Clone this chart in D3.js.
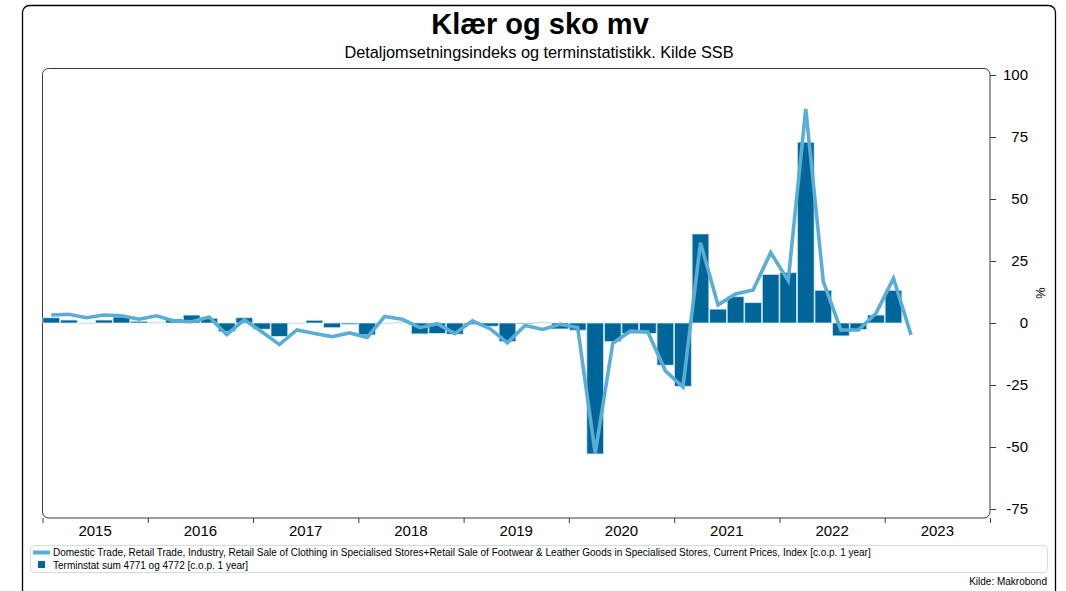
<!DOCTYPE html>
<html>
<head>
<meta charset="utf-8">
<script src="https://cdn.jsdelivr.net/npm/d3@7/dist/d3.min.js"></script>
<style>
  html, body { margin: 0; padding: 0; background: #fff; }
  svg { display: block; font-family: "Liberation Sans", Arial, sans-serif; }
</style>
</head>
<body>
<svg id="chart" width="1066" height="591"></svg>
<script>
// ---- Data (bimonthly VAT terms, % change on same period one year earlier) ----
const terms = [
  "2015T1","2015T2","2015T3","2015T4","2015T5","2015T6",
  "2016T1","2016T2","2016T3","2016T4","2016T5","2016T6",
  "2017T1","2017T2","2017T3","2017T4","2017T5","2017T6",
  "2018T1","2018T2","2018T3","2018T4","2018T5","2018T6",
  "2019T1","2019T2","2019T3","2019T4","2019T5","2019T6",
  "2020T1","2020T2","2020T3","2020T4","2020T5","2020T6",
  "2021T1","2021T2","2021T3","2021T4","2021T5","2021T6",
  "2022T1","2022T2","2022T3","2022T4","2022T5","2022T6",
  "2023T1","2023T2"
];
// Terminstat sum 4771 og 4772 (bars)
const terminstat = [
  2.1, 1.2, -0.3, 1.2, 2.4, 0.7,
  0.3, 1.6, 3.2, 1.9, -3.5, 2.1,
  -2.5, -5.4, -0.3, 1.1, -1.9, -0.5,
  -4.8, -0.3, 0.1, -4.4, -4.2, -4.5,
  -0.6, -1.3, -7.5, -0.4, 0.1, -2.4,
  -2.9, -52.8, -7.5, -4.2, -4.2, -17.0,
  -25.5, 35.9, 5.6, 10.6, 8.2, 19.6,
  20.3, 72.9, 13.2, -5.2, -2.6, 3.2,
  13.2
];
// Detaljomsetningsindeks, klær + sko (line)
const retailIndex = [
  3.2, 3.5, 2.1, 3.2, 2.9, 1.5,
  2.9, 0.8, 0.5, 2.4, -4.7, 1.3,
  -3.5, -8.7, -2.8, -4.2, -5.5, -4.0,
  -5.8, 2.6, 1.5, -1.9, -0.3, -4.3,
  0.9, -2.3, -8.0, -1.0, -2.6, -0.5,
  -1.8, -52.5, -8.2, -3.3, -3.6, -19.3,
  -25.8, 32.4, 7.3, 11.7, 13.3, 28.4,
  17.1, 86.3, 16.7, -2.8, -2.8, 3.9,
  18.0, -4.8
];
const yearLabels = ["2015","2016","2017","2018","2019","2020","2021","2022","2023"];
const yTicks = [100, 75, 50, 25, 0, -25, -50, -75];

const lineLabel = "Domestic Trade, Retail Trade, Industry, Retail Sale of Clothing in Specialised Stores+Retail Sale of Footwear & Leather Goods in Specialised Stores, Current Prices, Index [c.o.p. 1 year]";
const barLabel = "Terminstat sum 4771 og 4772 [c.o.p. 1 year]";

// ---- Layout ----
const svg = d3.select("#chart");
const plot = { left: 42.5, right: 990, top: 68.5, bottom: 518 };
const barColor = "#00669a";
const lineColor = "#5aadd5";

// time position: term index i -> fractional year
const tpos = i => +terms[i].slice(0, 4) + (+terms[i].slice(5) - 0.5) / 6;

const x = d3.scaleLinear().domain([2015, 2024]).range([plot.left, plot.right]);
const y = d3.scaleLinear().domain([-75, 100]).range([509, 75]);

// outer frame
svg.append("rect")
  .attr("x", 22.5).attr("y", 5.5).attr("width", 1033).attr("height", 640)
  .attr("rx", 7).attr("fill", "none").attr("stroke", "#000").attr("stroke-width", 1.3);

// title & subtitle
svg.append("text").attr("x", 540).attr("y", 34).attr("text-anchor", "middle")
  .attr("font-size", 29).attr("font-weight", "bold").attr("fill", "#000").text("Klær og sko mv");
svg.append("text").attr("x", 539).attr("y", 58).attr("text-anchor", "middle")
  .attr("font-size", 16.3).attr("fill", "#000").text("Detaljomsetningsindeks og terminstatistikk. Kilde SSB");

// plot box
svg.append("rect")
  .attr("x", plot.left).attr("y", plot.top)
  .attr("width", plot.right - plot.left).attr("height", plot.bottom - plot.top)
  .attr("rx", 6).attr("fill", "none").attr("stroke", "#3a3a3a").attr("stroke-width", 1);

// bars
const step = x(2015 + 1/6) - x(2015);
svg.append("g").selectAll("rect").data(terminstat).join("rect")
  .attr("x", (d, i) => x(tpos(i)) - step / 2 + 0.4)
  .attr("width", step - 0.8)
  .attr("y", d => Math.min(y(d), y(0)))
  .attr("height", d => Math.abs(y(d) - y(0)))
  .attr("fill", barColor)
  .attr("stroke", "#cfe5f0").attr("stroke-width", 0.8);

// line
const line = d3.line().x((d, i) => x(tpos(i))).y(d => y(d));
svg.append("path").datum(retailIndex)
  .attr("d", line).attr("fill", "none")
  .attr("stroke", lineColor).attr("stroke-width", 3.6)
  .attr("stroke-linejoin", "miter").attr("stroke-miterlimit", 4);

// right y-axis
const yAxis = d3.axisRight(y).tickValues(yTicks).tickSize(6).tickPadding(7).tickFormat(d => String(d));
const gy = svg.append("g").attr("transform", `translate(${plot.right},0)`).call(yAxis);
gy.select(".domain").remove();
gy.selectAll(".tick line").attr("stroke", "#3a3a3a");
gy.selectAll(".tick text").attr("font-size", 15).attr("fill", "#000")
  .attr("font-family", "'Liberation Sans', Arial, sans-serif")
  .attr("text-anchor", "end").attr("x", 38);

svg.append("text")
  .attr("transform", "translate(1036,293) rotate(90)")
  .attr("text-anchor", "middle").attr("font-size", 13).attr("fill", "#000").text("%");

// bottom x-axis (year boundaries)
const xAxis = d3.axisBottom(x).tickValues(d3.range(2015, 2025)).tickSize(5).tickFormat("");
const gx = svg.append("g").attr("transform", `translate(0,${plot.bottom})`).call(xAxis);
gx.select(".domain").remove();
gx.selectAll(".tick line").attr("stroke", "#3a3a3a");
svg.append("g").selectAll("text").data(yearLabels).join("text")
  .attr("x", d => x(+d + 0.5)).attr("y", 536)
  .attr("text-anchor", "middle").attr("font-size", 15).attr("fill", "#000")
  .text(d => d);

// legend
svg.append("rect").attr("x", 30.5).attr("y", 545.5).attr("width", 1017).attr("height", 27)
  .attr("rx", 4).attr("fill", "#fff").attr("stroke", "#c9e0ea").attr("stroke-width", 1);
svg.append("rect").attr("x", 33).attr("y", 550.5).attr("width", 17).attr("height", 4).attr("fill", lineColor);
svg.append("text").attr("x", 53).attr("y", 556).attr("font-size", 10).attr("fill", "#000").text(lineLabel);
svg.append("rect").attr("x", 38).attr("y", 561).attr("width", 7).attr("height", 7).attr("fill", barColor);
svg.append("text").attr("x", 53).attr("y", 568.5).attr("font-size", 10).attr("fill", "#000").text(barLabel);

// source
svg.append("text").attr("x", 1047).attr("y", 585).attr("text-anchor", "end")
  .attr("font-size", 10).attr("fill", "#000").text("Kilde: Makrobond");
</script>
</body>
</html>
